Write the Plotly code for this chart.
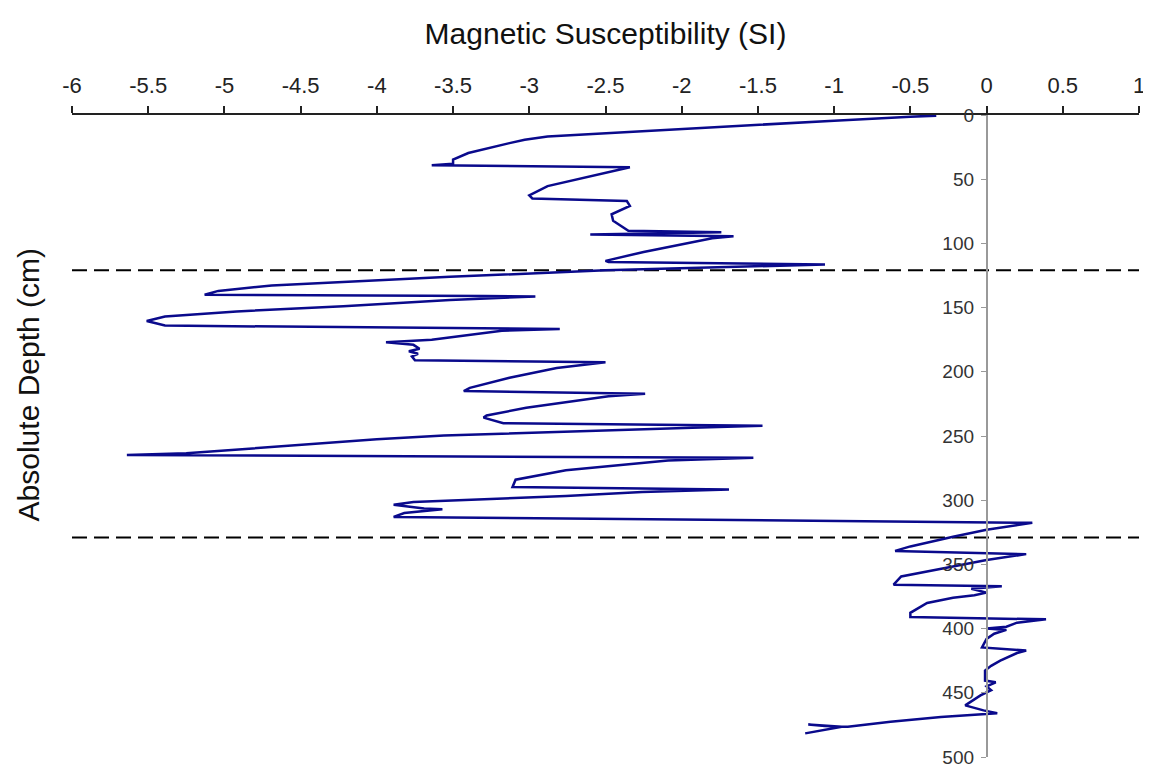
import plotly.graph_objects as go

# Magnetic susceptibility (SI) vs absolute depth (cm)
susceptibility = [
    -0.33, -0.50, -1.00, -1.50, -2.00, -2.50, -2.88, -3.03, -3.13, -3.40,
    -3.50, -3.50, -3.64, -2.34, -2.60, -2.88, -3.00, -2.98, -2.36, -2.34,
    -2.46, -2.45, -2.35, -1.74, -2.60, -1.66, -1.80, -2.25, -2.50, -2.48,
    -1.06, -1.60, -2.50, -3.52, -4.22, -4.69, -5.04, -5.13, -3.29, -2.96,
    -3.52, -4.22, -4.92, -5.39, -5.51, -5.39, -2.80, -3.18, -3.64, -3.94,
    -3.76, -3.72, -3.79, -3.73, -3.77, -3.75, -2.50, -2.82, -3.13, -3.39,
    -3.43, -2.24, -2.48, -3.02, -3.28, -3.30, -3.17, -1.47, -1.93, -2.91,
    -3.56, -4.00, -4.75, -4.92, -5.25, -5.64, -1.53, -2.09, -2.76, -3.09,
    -3.11, -1.69, -2.26, -2.76, -3.76, -3.89, -3.69, -3.57, -3.82, -3.89,
    0.30, 0.00, -0.22, -0.50, -0.60, 0.26, 0.00, -0.28, -0.56, -0.61,
    0.10, -0.10, 0.00, -0.08, -0.22, -0.39, -0.50, -0.50, 0.39, 0.20,
    0.13, 0.00, 0.13, 0.05, 0.00, -0.03, 0.26, 0.20, 0.09, 0.03,
    -0.01, -0.01, 0.06, 0.00, 0.03, -0.04, -0.09, -0.14, -0.02, 0.07,
    -0.30, -0.63, -0.91, -1.06, -1.17, -0.95, -1.19,
]
depth_cm = [
    0.5, 1.3, 4.4, 7.7, 11, 14, 16.7, 19.3, 21.9, 29.6,
    34.8, 38, 39.1, 40.7, 47.7, 55.4, 62.6, 65, 67, 70.8,
    77.3, 82.4, 90.2, 91.4, 93, 94.5, 96, 106.7, 113.6, 114.5,
    116.4, 118, 121, 126, 130, 132.7, 137, 140, 141, 141.3,
    144, 149, 153, 157, 160.5, 164, 166.7, 168, 175, 177,
    179, 182, 184, 186, 188, 191, 192.6, 197, 204.7, 212.5,
    215, 217, 219, 228, 234, 235.7, 240, 242, 243.5, 247,
    249.6, 252.5, 259, 261, 263.5, 264.8, 267, 269, 276.7, 284,
    289.8, 291.6, 293.7, 296.8, 301.4, 303.5, 306.5, 307, 310, 313,
    317.6, 323, 328.4, 336, 339.5, 342, 346.5, 353, 359.4, 365.8,
    367, 369, 372, 374, 376, 380, 387.7, 391, 392.8, 395.4,
    398.5, 400, 401, 404, 408, 414.7, 417, 419, 425, 429,
    432.7, 440.5, 441.8, 445, 448, 452, 456, 459.8, 463.7, 466,
    468.8, 472.6, 476.5, 475.8, 474.6, 476.5, 481.6,
]

# Unit boundaries (dashed lines), depth in cm
boundary_depths = [121, 329]

# Axis ticks
x_tickvals = [-6, -5.5, -5, -4.5, -4, -3.5, -3, -2.5, -2, -1.5, -1, -0.5, 0, 0.5, 1]
x_ticktext = ["-6", "-5.5", "-5", "-4.5", "-4", "-3.5", "-3", "-2.5", "-2",
              "-1.5", "-1", "-0.5", "0", "0.5", "1"]
y_tickvals = [0, 50, 100, 150, 200, 250, 300, 350, 400, 450, 500]
x_range = [-6, 1]
y_range = [500, 0]

fig = go.Figure()

for bd in boundary_depths:
    fig.add_trace(go.Scatter(
        x=x_range, y=[bd, bd], mode="lines",
        line=dict(color="black", width=2, dash="15px,7px"),
        showlegend=False, hoverinfo="skip", cliponaxis=False,
    ))

fig.add_trace(go.Scatter(
    x=susceptibility, y=depth_cm, mode="lines",
    line=dict(color="#0A0A8C", width=2.5),
    showlegend=False,
))

font_family = "Arial, Liberation Sans, sans-serif"

# The page body adds an 8px offset, so the figure is sized to fit inside it.
fig.update_layout(
    width=1143, height=761,
    margin=dict(l=64, r=12, t=107, b=12),
    paper_bgcolor="white", plot_bgcolor="white",
    font=dict(family=font_family, color="#222"),
    xaxis=dict(
        side="top", range=x_range,
        tickmode="array", tickvals=x_tickvals, ticktext=x_ticktext,
        showline=True, linecolor="#222", linewidth=1.5,
        ticks="outside", ticklen=7, tickcolor="#222", tickwidth=1.5,
        ticklabelstandoff=4, ticklabeloverflow="allow",
        showgrid=False, zeroline=False, automargin=False,
        tickfont=dict(size=22, color="#222"),
        title=dict(text="Magnetic Susceptibility (SI)",
                   font=dict(size=30, color="#111"), standoff=20),
    ),
    yaxis=dict(
        range=y_range, tickmode="array", tickvals=y_tickvals,
        anchor="free", position=6 / 7,
        showline=True, linecolor="#999", linewidth=1.5,
        ticks="outside", ticklen=5, tickcolor="#999",
        ticklabelstandoff=3, ticklabeloverflow="allow",
        showgrid=False, zeroline=False, automargin=False,
        tickfont=dict(size=19, color="#333"),
    ),
    annotations=[dict(
        text="Absolute Depth (cm)", textangle=-90,
        xref="paper", yref="paper", x=-0.0405, y=0.58,
        xanchor="center", yanchor="middle", showarrow=False,
        font=dict(size=30, color="#111"),
    )],
)

fig.write_html("out.html")
